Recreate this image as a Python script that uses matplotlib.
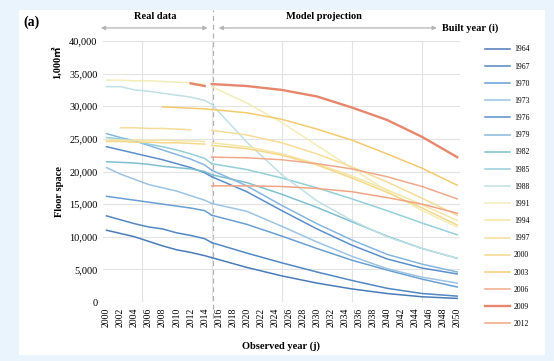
import numpy as np
import matplotlib.pyplot as plt
from matplotlib.patches import Rectangle

plt.rcParams['font.family'] = ['Liberation Serif', 'Noto Sans CJK JP', 'DejaVu Sans']

built_years = ['1964', '1967', '1970', '1973', '1976', '1979', '1982', '1985', '1988',
               '1991', '1994', '1997', '2000', '2003', '2006', '2009', '2012']
colors = ['#4a7bb7', '#5287c2', '#6a9fd2', '#9dc3e3', '#5b8fcb', '#86b6e0', '#7fbfd0',
          '#95cfd9', '#bfe0e4', '#f3edb8', '#f5e6a8', '#f7dc9a', '#f6d88a', '#f3cb6e',
          '#f0a98c', '#e6866c', '#f1a482']

real_years = [2000, 2002, 2004, 2006, 2008, 2010, 2012, 2014, 2015]
proj_years = [2015, 2020, 2025, 2030, 2035, 2040, 2045, 2050]
nan = np.nan

# observed floor space, 1,000 m2
real_1964 = [11000, 10500, 10000, 9300, 8600, 8000, 7600, 7100, 6800]
real_1967 = [13200, 12600, 12000, 11500, 11200, 10600, 10200, 9700, 9100]
real_1970 = [16200, 15900, 15600, 15300, 15000, 14700, 14400, 14000, 13300]
real_1973 = [20600, 19600, 18800, 18000, 17500, 17000, 16300, 15600, 15100]
real_1976 = [23800, 23300, 22800, 22300, 21800, 21200, 20600, 19800, 19200]
real_1979 = [25800, 25200, 24700, 24000, 23300, 22600, 21900, 21000, 20200]
real_1982 = [21500, 21400, 21300, 21100, 20800, 20600, 20400, 20000, 19500]
real_1985 = [25200, 25000, 24600, 24200, 23800, 23300, 22700, 22000, 21200]
real_1988 = [33000, 33000, 32500, 32300, 32000, 31700, 31400, 30900, 30300]
real_1991 = [34000, 34000, 33900, 33900, 33800, 33700, 33600, 33300, nan]
real_1994 = [24800, 24800, 24800, 24800, 24800, 24700, 24700, 24600, nan]
real_1997 = [nan, 26700, 26700, 26600, 26600, 26500, 26400, nan, nan]
real_2000 = [24600, 24600, 24500, 24500, 24400, 24400, 24300, 24200, nan]
real_2003 = [nan, nan, nan, nan, 29900, 29800, 29700, 29600, 29500]
real_2006 = [nan, nan, nan, nan, nan, nan, nan, nan, nan]
real_2009 = [nan, nan, nan, nan, nan, nan, 33500, 33100, nan]
real_2012 = [nan, nan, nan, nan, nan, nan, nan, nan, nan]

# model projection
proj_1964 = [6800, 5300, 4000, 2900, 2000, 1300, 800, 550]
proj_1967 = [9100, 7500, 6000, 4600, 3300, 2100, 1300, 900]
proj_1970 = [13300, 11900, 10100, 8200, 6400, 4900, 3500, 2300]
proj_1973 = [15100, 13900, 11600, 9200, 7000, 5100, 3800, 2900]
proj_1976 = [19200, 16900, 14000, 11200, 8700, 6600, 5200, 4300]
proj_1979 = [20200, 17800, 14800, 12000, 9500, 7300, 5800, 4600]
proj_1982 = [19500, 18300, 16500, 14500, 12300, 10100, 8200, 6700]
proj_1985 = [21200, 20300, 19000, 17500, 15800, 14000, 12100, 10300]
proj_1988 = [30300, 24500, 19500, 15500, 12500, 10000, 8200, 6700]
proj_1991 = [33000, 30500, 27500, 24000, 20500, 17000, 14000, 11500]
proj_1994 = [24400, 23800, 22700, 21200, 19300, 17200, 14900, 12500]
proj_1997 = [26300, 25600, 24400, 22700, 20700, 18400, 15900, 13300]
proj_2000 = [24000, 23500, 22500, 21000, 19000, 16800, 14400, 11800]
proj_2003 = [29500, 29000, 28000, 26500, 24800, 22700, 20500, 17900]
proj_2006 = [22200, 22100, 21800, 21200, 20400, 19200, 17700, 15800]
proj_2009 = [33400, 33100, 32500, 31500, 29800, 27900, 25300, 22200]
proj_2012 = [17800, 17800, 17700, 17400, 16900, 16000, 15000, 13600]

real_series = [real_1964, real_1967, real_1970, real_1973, real_1976, real_1979, real_1982,
               real_1985, real_1988, real_1991, real_1994, real_1997, real_2000, real_2003,
               real_2006, real_2009, real_2012]
proj_series = [proj_1964, proj_1967, proj_1970, proj_1973, proj_1976, proj_1979, proj_1982,
               proj_1985, proj_1988, proj_1991, proj_1994, proj_1997, proj_2000, proj_2003,
               proj_2006, proj_2009, proj_2012]

fig = plt.figure(figsize=(5.54, 3.61), dpi=100)
fig.patch.set_facecolor('#eaf4fc')
panel = Rectangle((19 / 554, 1 - 355 / 361), 526 / 554, 345 / 361,
                  transform=fig.transFigure, facecolor='white', edgecolor='none', zorder=-10)
fig.add_artist(panel)

ax = fig.add_axes([103 / 554, 1 - 302 / 361, 357 / 554, 261 / 361])
ax.set_facecolor('none')

for name, c, r, p in zip(built_years, colors, real_series, proj_series):
    lw = 1.7 if name == '2009' else 1.1
    ax.plot(real_years, r, color=c, lw=lw, label=name)
    ax.plot(proj_years, p, color=c, lw=lw)

ax.set_xlim(1999.5, 2050.4)
ax.set_ylim(0, 40000)
ax.set_xticks(range(2000, 2051, 2))
ax.set_xticklabels([str(y) for y in range(2000, 2051, 2)], rotation=90, fontsize=7)
ax.set_xticks(range(2000, 2051, 5), minor=True)
ax.set_yticks(range(0, 40001, 5000))
ax.set_yticklabels([f'{v:,}' for v in range(0, 40001, 5000)], fontsize=7.5)
ax.tick_params(which='both', length=0, pad=4)
ax.grid(True, which='minor', axis='x', color='#e3e3e3', lw=0.8)
ax.grid(True, which='major', axis='y', color='#e3e3e3', lw=0.8)
ax.set_axisbelow(True)
for s in ax.spines.values():
    s.set_visible(False)

ax.set_xlabel('Observed year (j)', fontsize=7.5, fontweight='bold', labelpad=10)
fig.text(60 / 554, 1 - 192 / 361, 'Floor space', rotation=90, fontsize=7.5,
         fontweight='bold', ha='center', va='center')
fig.text(57 / 554, 1 - 62 / 361, '1,000㎡', rotation=90, fontsize=7.5,
         fontweight='bold', ha='center', va='center')
fig.text(32 / 554, 1 - 22 / 361, '(a)', fontsize=10, fontweight='bold',
         ha='center', va='center')

# dashed split between real data and projection
split = 2015.2
ax.plot([split, split], [-2500, 44800], ls=(0, (4, 3)), color='#b0b0b0', lw=0.9,
        clip_on=False, zorder=0)

arrow_y = 42000
ax.annotate('', xy=(1998.8, arrow_y), xytext=(split - 0.4, arrow_y),
            arrowprops=dict(arrowstyle='<|-|>', color='#b5b5b5', lw=0.9,
                            mutation_scale=6), annotation_clip=False)
ax.annotate('', xy=(split + 0.4, arrow_y), xytext=(2047.5, arrow_y),
            arrowprops=dict(arrowstyle='<|-|>', color='#b5b5b5', lw=0.9,
                            mutation_scale=6), annotation_clip=False)
ax.text(2007, 43700, 'Real data', fontsize=7.5, fontweight='bold', ha='center', va='center')
ax.text(2031, 43700, 'Model projection', fontsize=7.5, fontweight='bold',
        ha='center', va='center')
ax.text(2047.8, arrow_y, 'Built year (i)', fontsize=7.5, fontweight='bold',
        ha='left', va='center')

leg = ax.legend(loc='upper left', bbox_to_anchor=(482 / 357 - 103 / 357, 0.995),
                frameon=False, fontsize=5.5, handlelength=3.2, handletextpad=0.6,
                labelspacing=1.2, borderaxespad=0)

fig.savefig('out.png', dpi=100, facecolor=fig.get_facecolor())
